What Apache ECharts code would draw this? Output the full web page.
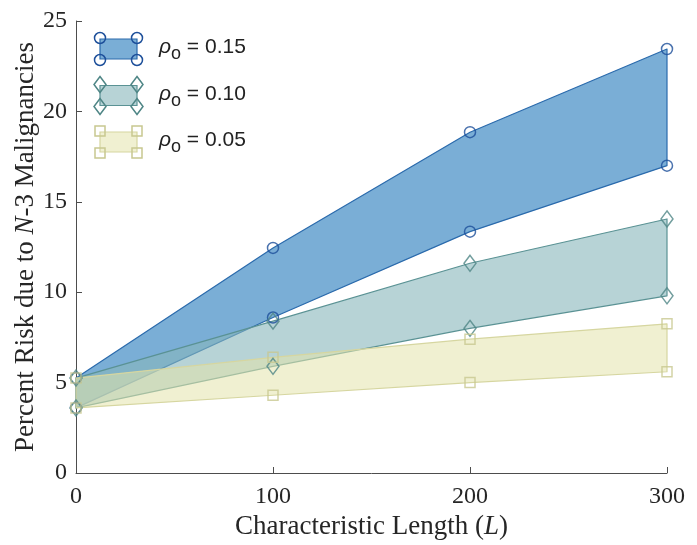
<!DOCTYPE html>
<html>
<head>
<meta charset="utf-8">
<script src="https://cdn.jsdelivr.net/npm/echarts@6/dist/echarts.min.js"></script>
<style>html,body{margin:0;padding:0;background:#fff}#c{width:697px;height:545px}</style>
</head>
<body>
<div id="c"></div>
<script>
// ---- data ----
var lengths = [0, 100, 200, 300];
var upper15 = [5.25, 12.45, 18.85, 23.45];
var lower15 = [3.6, 8.6, 13.35, 17.0];
var upper10 = [5.25, 8.4, 11.6, 14.05];
var lower10 = [3.6, 5.9, 8.0, 9.8];
var upper05 = [5.25, 6.4, 7.4, 8.25];
var lower05 = [3.6, 4.3, 5.0, 5.6];
var labels = ['0.15', '0.10', '0.05'];
var yTicks = [0, 5, 10, 15, 20, 25];
var xTicks = [0, 100, 200, 300];

var styles = [
  {fill: 'rgba(33,120,187,0.6)', edge: '#2a6aac', mark: '#1d4f9a', symbol: 'circle', size: 11},
  {fill: 'rgba(135,182,187,0.6)', edge: '#5a9294', mark: '#4f8686', symbol: 'diamond', size: [12, 16]},
  {fill: 'rgba(228,228,172,0.55)', edge: '#d6d6a0', mark: '#c8c890', symbol: 'rect', size: 10}
];
var bands = [[upper15, lower15], [upper10, lower10], [upper05, lower05]];

var series = [];
bands.forEach(function (b, i) {
  var st = styles[i];
  series.push({
    type: 'custom',
    z: 2 + i,
    data: [0],
    silent: true,
    renderItem: function (params, api) {
      if (params.dataIndex !== 0) return;
      var pts = [];
      for (var k = 0; k < lengths.length; k++) pts.push(api.coord([lengths[k], b[0][k]]));
      for (var k = lengths.length - 1; k >= 0; k--) pts.push(api.coord([lengths[k], b[1][k]]));
      return {type: 'polygon', shape: {points: pts},
        style: {fill: st.fill, stroke: st.edge, lineWidth: 1.2, lineJoin: 'round'}};
    }
  });
});
bands.forEach(function (b, i) {
  var st = styles[i];
  [0, 1].forEach(function (j) {
    series.push({
      type: 'scatter', z: 10 + i, silent: true,
      symbol: st.symbol, symbolSize: st.size,
      itemStyle: {color: 'rgba(0,0,0,0)', borderColor: st.mark, borderWidth: 1.5},
      data: lengths.map(function (x, k) { return [x, b[j][k]]; })
    });
  });
});

// legend built from graphic elements
var graphic = [];
var lx0 = 100, lx1 = 137, ly = 49, gap = 46.5;
labels.forEach(function (lab, i) {
  var st = styles[i];
  var cy = ly + i * gap;
  graphic.push({type: 'rect', shape: {x: lx0, y: cy - 10, width: lx1 - lx0, height: 20},
    style: {fill: st.fill, stroke: st.edge, lineWidth: 1.2}, z: 20});
  [[lx0, cy - 11], [lx1, cy - 11], [lx0, cy + 11], [lx1, cy + 11]].forEach(function (p) {
    var shp;
    if (i === 0) shp = {type: 'circle', shape: {cx: p[0], cy: p[1], r: 5.5}};
    else if (i === 1) shp = {type: 'polygon', shape: {points: [[p[0], p[1] - 8], [p[0] + 6, p[1]], [p[0], p[1] + 8], [p[0] - 6, p[1]]]}};
    else shp = {type: 'rect', shape: {x: p[0] - 5, y: p[1] - 5, width: 10, height: 10}};
    shp.style = {fill: 'none', stroke: st.mark, lineWidth: 1.5};
    shp.z = 21;
    graphic.push(shp);
  });
  graphic.push({type: 'text', z: 21, left: 159, top: cy - 12,
    style: {text: '{r|ρ}{s|o}{t| = ' + lab + '}',
      rich: {
        r: {fontFamily: 'Liberation Sans', fontStyle: 'italic', fontSize: 21, fill: '#222'},
        s: {fontFamily: 'Liberation Sans', fontSize: 18, fill: '#222', padding: [14, 0, 0, 0]},
        t: {fontFamily: 'Liberation Sans', fontSize: 21, fill: '#222'}
      }}});
});

var chart = echarts.init(document.getElementById('c'), null, {renderer: 'canvas'});
chart.setOption({
  animation: false,
  backgroundColor: '#fff',
  grid: {left: 76, right: 30, top: 21, bottom: 72, containLabel: false, outerBoundsMode: 'none'},
  xAxis: {
    type: 'value', min: xTicks[0], max: xTicks[xTicks.length - 1], interval: 100,
    name: 'Characteristic Length ({i|L})', nameLocation: 'middle', nameGap: 40, nameMoveOverlap: false,
    nameTextStyle: {fontFamily: 'Liberation Serif', fontSize: 27, color: '#262626',
      rich: {i: {fontFamily: 'Liberation Serif', fontStyle: 'italic', fontSize: 27, color: '#262626'}}},
    axisLine: {show: true, lineStyle: {color: '#4d4d4d', width: 1}},
    axisTick: {show: true, inside: true, length: 6, lineStyle: {color: '#4d4d4d'}},
    axisLabel: {fontFamily: 'Liberation Serif', fontSize: 24, color: '#262626', margin: 12},
    splitLine: {show: false}
  },
  yAxis: {
    type: 'value', min: yTicks[0], max: yTicks[yTicks.length - 1], interval: 5,
    name: 'Percent Risk due to {i|N}-3 Malignancies', nameLocation: 'middle', nameGap: 37, nameMoveOverlap: false,
    nameTextStyle: {fontFamily: 'Liberation Serif', fontSize: 27, color: '#262626',
      rich: {i: {fontFamily: 'Liberation Serif', fontStyle: 'italic', fontSize: 27, color: '#262626'}}},
    axisLine: {show: true, lineStyle: {color: '#4d4d4d', width: 1}},
    axisTick: {show: true, inside: true, length: 6, lineStyle: {color: '#4d4d4d'}},
    axisLabel: {fontFamily: 'Liberation Serif', fontSize: 24, color: '#262626', margin: 9},
    splitLine: {show: false}
  },
  graphic: graphic,
  series: series
});
</script>
</body>
</html>
